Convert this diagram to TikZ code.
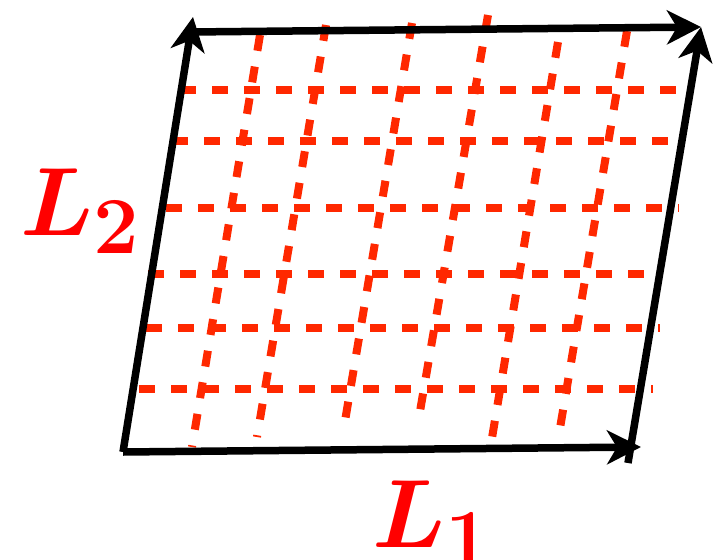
\documentclass[tikz,border=0pt]{standalone}
\usepackage{graphicx}
\usepackage{bm}
\usetikzlibrary{arrows.meta}
\definecolor{gridred}{RGB}{255,40,0}
\tikzset{
  frame/.style={line width=7.5pt, black, -{Stealth[length=34pt,width=34pt,inset=10pt]}},
  gridline/.style={line width=8pt, gridred, dash pattern=on 16pt off 16pt},
  lab/.style={text=red, inner sep=0pt}
}
\newcommand{\biglab}[1]{\scalebox{3.9}{\Huge$\bm{#1}$}}
\begin{document}
\begin{tikzpicture}[x=1pt,y=-1pt]
\useasboundingbox (0,0) rectangle (721,560);
% horizontal grid lines
\foreach \i/\y/\xa/\xb in {1/90/180/693, 2/141/172/684, 3/208/166/679, 4/274/148/660, 5/328/146/660, 6/389/139/653}{
  \coordinate (h\i a) at (\xa,\y);
  \coordinate (h\i b) at (\xb,\y);
  \draw[gridline] (h\i a) -- (h\i b);
}
% slanted grid lines
\foreach \i/\xt/\yt/\xb/\yb in {1/260/35/192/447, 2/326/25/257/437, 3/412/23/343/433, 4/488/15/418/423, 5/558/42/490/450, 6/627/31/558/440}{
  \coordinate (v\i t) at (\xt,\yt);
  \coordinate (v\i b) at (\xb,\yb);
  \draw[gridline] (v\i t) -- (v\i b);
}
% frame
\coordinate (BL) at (123,452);
\coordinate (BR) at (641,447);
\coordinate (TL) at (193,17);
\coordinate (TLs) at (190,32);
\coordinate (TR) at (701,27);
\coordinate (BRs) at (628,463);
\draw[frame] (BL) -- (BR);
\draw[frame] (BL) -- (TL);
\draw[frame] (TLs) -- (TR);
\draw[frame] (BRs) -- (TR);
% labels
\node[lab, anchor=base west] (L2) at (20,235) {\biglab{L_2}};
\node[lab, anchor=base west] (L1) at (372,547) {\biglab{L_1}};
\end{tikzpicture}
\end{document}
